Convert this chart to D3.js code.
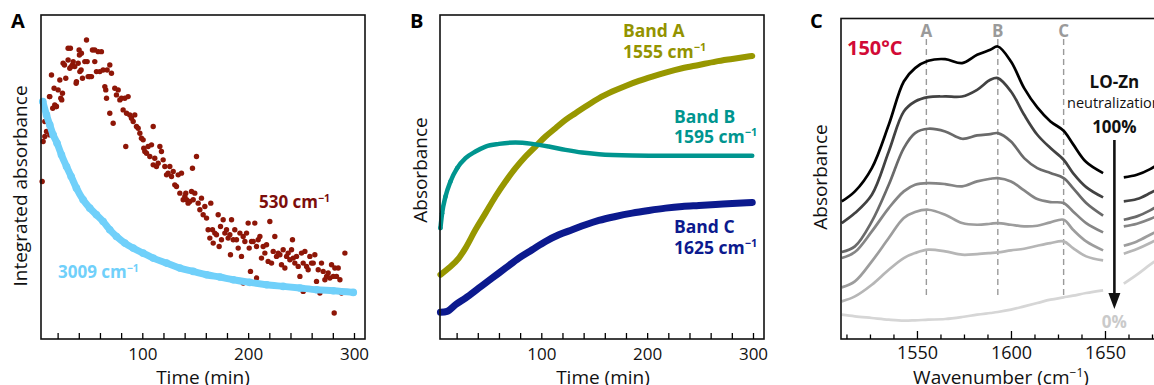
<!DOCTYPE html>
<html>
<head>
<meta charset="utf-8">
<script src="https://cdn.jsdelivr.net/npm/d3@7"></script>
<style>
  body { margin: 0; background: #fff; }
  text { font-family: "Open Sans", sans-serif; }
</style>
</head>
<body>
<svg id="fig" width="1154" height="385"></svg>
<script>
// ---- panel A : integrated absorbance vs time (a.u.) ----
// 530 cm-1, scattered points [time (min), absorbance]
const band530 = [
  [5.4,47.3],[6.3,59.3],[7.9,60.8],[9.5,62.3],[12.6,61.3],[7.9,65.3],[12.6,72.8],[14.2,79.3],[16.7,75.3],[18.9,69.8],
  [17.3,70.3],[20.5,74.8],[22.1,77.8],[23.0,72.3],[24.6,73.8],[25.2,82.8],[27.7,78.3],[29.9,83.8],[29.9,87.3],[32.1,87.3],
  [31.5,81.3],[34.0,82.3],[34.7,83.3],[36.2,81.8],[37.8,77.3],[39.4,82.8],[40.3,86.8],[41.0,80.3],[42.5,85.8],[43.5,78.3],
  [45.7,83.3],[47.3,89.8],[47.9,83.3],[48.8,78.8],[50.4,78.8],[52.0,78.8],[52.9,86.8],[55.1,86.8],[55.1,83.3],[56.7,80.3],
  [58.3,86.3],[59.9,80.3],[61.4,86.3],[63.0,80.8],[64.6,75.8],[65.5,74.8],[66.2,72.3],[66.8,80.8],[69.3,82.3],[70.9,79.8],
  [69.3,67.8],[72.5,64.8],[74.0,75.3],[75.6,73.3],[77.2,74.8],[78.8,71.8],[80.3,72.3],[81.9,68.8],[83.5,72.3],[84.4,57.8],
  [85.1,67.8],[86.6,72.8],[88.2,67.3],[89.8,66.3],[91.4,65.3],[92.9,67.3],[94.5,63.8],[96.1,63.3],[97.7,61.8],[99.2,60.3],
  [100.8,59.8],[101.4,57.3],[102.4,56.3],[104.0,55.8],[105.5,57.8],[107.1,54.8],[108.7,58.3],[110.3,63.8],[110.3,52.3],[111.8,54.3],
  [113.4,51.8],[115.0,52.8],[116.6,57.8],[118.1,56.3],[119.7,53.8],[121.3,51.8],[122.9,49.3],[124.4,49.8],[126.0,51.8],[127.6,48.8],
  [129.2,50.3],[130.7,46.3],[132.3,45.8],[133.9,49.3],[135.5,43.8],[137.0,49.8],[138.6,41.8],[140.2,42.8],[141.1,43.8],[141.8,41.8],
  [143.3,40.8],[144.9,41.3],[146.5,44.3],[147.4,51.3],[148.1,41.8],[149.6,43.8],[151.2,54.8],[152.8,40.8],[154.4,38.8],[155.9,42.3],
  [157.5,37.3],[159.1,39.8],[160.7,36.3],[162.2,32.8],[163.8,30.3],[164.7,40.8],[166.3,32.8],[167.0,28.8],[168.5,31.8],[170.1,31.3],
  [171.7,37.3],[172.6,27.8],[173.9,33.8],[174.8,29.8],[176.4,35.8],[178.0,31.8],[179.6,32.8],[181.1,30.3],[182.7,31.3],[183.3,25.3],
  [184.3,35.8],[185.9,29.8],[187.4,32.8],[189.0,29.8],[190.6,27.3],[192.2,31.8],[193.7,24.8],[195.3,30.8],[196.9,29.3],[198.5,31.8],
  [200.0,34.8],[201.0,27.3],[202.2,20.3],[203.2,29.3],[204.8,29.3],[206.3,34.8],[207.9,27.8],[209.5,29.8],[211.1,30.8],[212.6,24.3],
  [214.2,27.8],[215.8,25.8],[217.4,28.3],[218.9,23.3],[220.5,35.3],[222.1,22.8],[223.7,26.3],[225.2,30.8],[226.8,24.8],[228.4,25.8],
  [230.0,25.3],[231.5,22.3],[233.1,26.8],[234.7,21.3],[236.3,24.8],[237.8,25.8],[239.4,23.8],[241.0,26.8],[241.9,29.8],[242.6,24.3],
  [244.1,22.8],[245.7,24.8],[247.3,21.8],[248.9,18.8],[250.4,25.8],[252.0,22.8],[253.6,26.3],[255.2,21.8],[256.7,20.8],[258.3,24.8],
  [259.9,22.8],[261.5,22.8],[263.0,25.3],[264.6,17.3],[266.2,20.8],[267.8,13.8],[269.3,22.8],[270.9,20.3],[272.5,17.8],[274.1,18.8],
  [275.6,19.8],[277.2,18.3],[278.8,22.3],[280.4,18.8],[281.3,7.8],[281.9,21.3],[283.5,18.8],[285.1,21.3],[286.7,17.8],[288.2,13.8],
  [291.4,25.8],[195.3,16.8],[207.9,18.3],[252.0,14.3],[15.4,69.3],[18.6,69.8],[12.3,72.8],[23.9,71.8],[26.5,82.3],[32.8,81.8],
  [37.5,76.8],[40.6,85.3],[42.2,80.8],[50.1,78.8]
]
// 3009 cm-1, dense trace
const band3009 = [
  [6.0,71.3],[9.5,67.3],[12.6,64.3],[15.8,61.3],[19.5,58.8],[23.6,55.3],[28.4,51.8],[32.8,48.8],[37.8,45.3],[44.1,41.8],
  [50.4,39.3],[56.7,37.3],[63.0,35.3],[69.3,32.8],[75.6,30.8],[83.5,28.8],[91.4,27.3],[100.8,25.8],[110.3,24.3],[122.9,22.8],
  [135.5,21.3],[148.1,20.3],[160.7,19.3],[173.3,18.6],[185.9,17.8],[201.6,17.0],[217.4,16.3],[233.1,15.8],[248.9,15.3],[264.6,14.8],
  [280.4,14.5],[299.3,14.0]
]

// ---- panel B : band absorbance vs time ----
const bandA = [
  [4.7,19.3],[12.6,21.3],[22.1,24.3],[28.4,27.3],[37.8,32.8],[47.3,37.8],[56.7,42.8],[66.2,47.3],[75.6,51.3],[85.1,54.8],
  [94.5,57.8],[104.0,60.8],[113.4,63.3],[122.9,65.8],[132.3,67.8],[141.8,69.8],[154.4,72.3],[167.0,74.3],[179.6,76.0],[192.2,77.5],
  [204.8,78.8],[217.4,80.0],[233.1,81.3],[248.9,82.3],[264.6,83.3],[280.4,84.1],[299.3,85.0]
]
const bandB = [
  [4.7,33.3],[6.3,37.8],[9.5,42.8],[14.2,47.3],[20.5,51.3],[28.4,54.3],[37.8,56.3],[47.3,57.8],[59.9,58.6],[75.6,59.0],
  [91.4,58.6],[107.1,57.8],[122.9,56.8],[138.6,56.0],[154.4,55.5],[185.9,55.1],[217.4,55.0],[248.9,55.0],[299.3,55.0]
]
const bandC = [
  [4.7,8.0],[11.0,8.3],[18.9,10.3],[28.4,12.3],[41.0,15.3],[53.6,18.3],[66.2,21.3],[78.8,24.3],[91.4,26.8],[104.0,29.3],
  [116.6,31.3],[129.2,32.8],[141.8,34.3],[154.4,35.6],[170.1,36.8],[185.9,37.8],[201.6,38.6],[217.4,39.3],[233.1,39.8],[248.9,40.1],
  [264.6,40.4],[280.4,40.7],[299.3,41.0]
]

// ---- panel C : spectra at decreasing LO-Zn neutralization (null = axis gap) ----
const wavenumbers = [1510,1517,1526,1535,1543,1549,1556,1565,1574,1582,1589,1593,1600,1607,1614,1621,1628,1633,1640,1649,1655,1660,1667,1674,1679]
const spec1 = [41.3,44.3,51.3,64.3,77.3,81.3,83.5,84.0,82.8,85.3,86.8,87.8,83.3,75.3,69.5,65.3,62.5,58.5,53.1,49.8,null,48.5,49.3,51.0,52.8]
const spec2 = [34.8,37.8,43.3,56.3,68.3,71.3,72.6,72.8,72.8,74.8,77.8,78.3,74.3,67.3,61.3,57.3,53.8,49.8,45.6,42.5,null,41.3,42.0,43.8,45.3]
const spec3 = [26.1,27.8,35.3,46.3,57.3,61.8,63.1,62.3,60.1,61.1,61.5,61.8,59.3,54.3,51.3,49.8,48.3,45.3,40.8,37.0,null,35.8,36.8,38.6,40.3]
const spec4 = [24.3,26.1,32.3,39.3,44.3,46.3,46.8,46.5,45.8,47.3,48.1,48.3,47.3,44.6,42.0,41.1,40.8,38.3,34.8,32.0,null,33.8,34.6,36.0,37.3]
const spec5 = [15.5,17.3,23.3,30.3,36.3,38.1,38.8,37.3,34.8,34.3,34.6,34.8,34.3,33.8,34.0,35.0,35.8,32.8,29.3,26.6,null,28.0,29.3,31.3,32.8]
const spec6 = [11.3,12.8,16.3,20.8,24.3,25.8,26.8,26.3,25.3,25.5,25.8,26.0,26.6,27.1,28.0,28.8,29.3,27.3,24.8,23.6,null,25.6,27.0,28.8,30.3]
const spec7 = [7.3,6.8,6.3,5.8,5.5,5.6,5.8,6.0,6.6,7.3,7.8,8.1,8.8,9.8,10.8,11.8,12.5,13.0,13.8,14.6,null,16.6,19.3,22.3,24.3]
const bandPositions = [1555, 1593, 1628]
const bandNames = ['A', 'B', 'C']
const timeTicks = [100, 200, 300]
const wnTicks = [1550, 1600, 1650]

const svg = d3.select('#fig')
svg.append('rect').attr('width', 1154).attr('height', 385).attr('fill', '#fff')

function superLabel(g, x, y, txt, sup, color, size, weight) {
  var t = g.append('text').attr('x', x).attr('y', y).attr('fill', color)
    .attr('font-size', size).attr('font-weight', weight || 700).text(txt)
  if (sup) t.append('tspan').attr('dy', -size * 0.38).attr('font-size', size * 0.62).text(sup)
  return t
}

function timeAxes(g, x, h) {
  g.append('g').attr('transform', `translate(0,${h})`)
    .call(d3.axisBottom(x).tickValues(d3.range(20, 301, 20)).tickSize(-6).tickFormat(''))
    .call(a => a.select('.domain').remove())
    .call(a => a.selectAll('line').attr('stroke-width', 1.3))
  g.append('g').attr('transform', `translate(0,${h})`)
    .call(d3.axisBottom(x).tickValues(timeTicks).tickSize(0).tickPadding(9).tickFormat(d3.format('d')))
    .call(a => a.select('.domain').remove())
    .call(a => a.selectAll('text').attr('font-size', 17).attr('font-family', '"Open Sans", sans-serif').attr('fill', '#111'))
}

function frame(g, w, h) {
  g.append('rect').attr('width', w).attr('height', h)
    .attr('fill', 'none').attr('stroke', '#111').attr('stroke-width', 1.6)
}

// ================= Panel A =================
const W = 324, H = 324
const gA = svg.append('g').attr('transform', 'translate(41,15)')
const xA = d3.scaleLinear().domain([4.3, 310.4]).range([0, W])
const yA = d3.scaleLinear().domain([0, 97.3]).range([H, 0])

gA.selectAll('circle.r').data(band530).join('circle').attr('class', 'r')
  .attr('cx', d => xA(d[0])).attr('cy', d => yA(d[1])).attr('r', 2.7).attr('fill', '#8e1607')

gA.append('path').datum(band3009)
  .attr('fill', 'none').attr('stroke', '#70d0fa').attr('stroke-width', 7)
  .attr('stroke-linecap', 'round').attr('stroke-linejoin', 'round')
  .attr('d', d3.line().x(d => xA(d[0])).y(d => yA(d[1])).curve(d3.curveMonotoneX))
gA.selectAll('circle.b').data(band3009).join('circle').attr('class', 'b')
  .attr('cx', d => xA(d[0])).attr('cy', d => yA(d[1])).attr('r', 3.8).attr('fill', '#70d0fa')

frame(gA, W, H)
timeAxes(gA, xA, H)

superLabel(svg, 259, 208, '530 cm', '\u22121', '#7c0d0b', 17)
superLabel(svg, 58, 278, '3009 cm', '\u22121', '#70d0fa', 17)
svg.append('text').attr('x', 203).attr('y', 384).attr('text-anchor', 'middle')
  .attr('font-size', 19).attr('fill', '#111').text('Time (min)')
svg.append('text').attr('transform', 'translate(27,186) rotate(-90)').attr('text-anchor', 'middle')
  .attr('font-size', 19).attr('fill', '#111').text('Integrated absorbance')
svg.append('text').attr('x', 11).attr('y', 28).attr('font-family', '"Liberation Sans", Arial, sans-serif')
  .attr('font-weight', 700).attr('font-size', 20).text('A')

// ================= Panel B =================
const gB = svg.append('g').attr('transform', 'translate(440,15)')
const xB = d3.scaleLinear().domain([4.3, 310.4]).range([0, W])
const yB = d3.scaleLinear().domain([0, 97.3]).range([H, 0])
const lineB = d3.line().x(d => xB(d[0])).y(d => yB(d[1])).curve(d3.curveMonotoneX)

const bands = [
  { data: bandA, color: '#979700', width: 6 },
  { data: bandB, color: '#00958f', width: 4.5 },
  { data: bandC, color: '#0c1a8e', width: 7 }
]
bands.forEach(b => {
  gB.append('path').datum(b.data).attr('fill', 'none').attr('stroke', b.color)
    .attr('stroke-width', b.width).attr('stroke-linecap', 'round').attr('d', lineB)
})
gB.selectAll('circle.t').data(bandB.slice(0, 5)).join('circle').attr('class', 't')
  .attr('cx', d => xB(d[0])).attr('cy', d => yB(d[1])).attr('r', 2.3).attr('fill', '#00958f')

frame(gB, W, H)
timeAxes(gB, xB, H)

superLabel(svg, 623, 37, 'Band A', null, '#939300', 17.5)
superLabel(svg, 623, 58, '1555 cm', '\u22121', '#939300', 17.5)
superLabel(svg, 674, 123, 'Band B', null, '#00958f', 17.5)
superLabel(svg, 674, 143, '1595 cm', '\u22121', '#00958f', 17.5)
superLabel(svg, 674, 233, 'Band C', null, '#0c1a8e', 17.5)
superLabel(svg, 674, 254, '1625 cm', '\u22121', '#0c1a8e', 17.5)
svg.append('text').attr('x', 603).attr('y', 384).attr('text-anchor', 'middle')
  .attr('font-size', 19).attr('fill', '#111').text('Time (min)')
svg.append('text').attr('transform', 'translate(427,170) rotate(-90)').attr('text-anchor', 'middle')
  .attr('font-size', 19).attr('fill', '#111').text('Absorbance')
svg.append('text').attr('x', 410).attr('y', 28).attr('font-family', '"Liberation Sans", Arial, sans-serif')
  .attr('font-weight', 700).attr('font-size', 20).text('B')

// ================= Panel C =================
const HC = 320.5
const gC = svg.append('g').attr('transform', 'translate(841,18.5)')
const xC = d3.scaleLinear().domain([1509.6, 1680]).range([0, 320.4])
const yC = d3.scaleLinear().domain([0, 96.2]).range([HC, 0])

// dashed band markers
const dashSpan = [13.2, 90.7]
gC.selectAll('line.band').data(bandPositions).join('line').attr('class', 'band')
  .attr('x1', d => xC(d)).attr('x2', d => xC(d))
  .attr('y1', yC(dashSpan[0])).attr('y2', yC(dashSpan[1]))
  .attr('stroke', '#9a9a9a').attr('stroke-width', 1.4).attr('stroke-dasharray', '6,4')
gC.selectAll('text.band').data(bandPositions).join('text').attr('class', 'band')
  .attr('x', d => xC(d)).attr('y', 18.5).attr('text-anchor', 'middle')
  .attr('font-size', 17).attr('font-weight', 700).attr('fill', '#9a9a9a')
  .text((d, i) => bandNames[i])

const spectra = [spec7, spec6, spec5, spec4, spec3, spec2, spec1]
const grays = ['#d6d6d6', '#b6b6b6', '#9d9d9d', '#858585', '#6a6a6a', '#424242', '#000000']
const lineC = d3.line().defined(d => d[1] != null)
  .x(d => xC(d[0])).y(d => yC(d[1])).curve(d3.curveCatmullRom.alpha(0.5))
spectra.forEach((s, i) => {
  gC.append('path').datum(wavenumbers.map((w, j) => [w, s[j]]))
    .attr('fill', 'none').attr('stroke', grays[i]).attr('stroke-width', 2.7)
    .attr('stroke-linejoin', 'round').attr('d', lineC)
})

gC.append('rect').attr('width', 340).attr('height', HC)
  .attr('fill', 'none').attr('stroke', '#111').attr('stroke-width', 1.6)

const minorWn = d3.range(1512.5, 1680, 12.5).filter(v => wnTicks.indexOf(v) < 0)
gC.append('g').attr('transform', `translate(0,${HC})`)
  .call(d3.axisBottom(xC).tickValues(minorWn).tickSize(-4.5).tickFormat(''))
  .call(a => a.select('.domain').remove())
  .call(a => a.selectAll('line').attr('stroke-width', 1.3))
gC.append('g').attr('transform', `translate(0,${HC})`)
  .call(d3.axisBottom(xC).tickValues(wnTicks).tickSize(-8).tickFormat(''))
  .call(a => a.select('.domain').remove())
  .call(a => a.selectAll('line').attr('stroke-width', 1.3))
gC.append('g').attr('transform', `translate(0,${HC})`)
  .call(d3.axisBottom(xC).tickValues(wnTicks).tickSize(0).tickPadding(7).tickFormat(d3.format('d')))
  .call(a => a.select('.domain').remove())
  .call(a => a.selectAll('text').attr('font-size', 18).attr('font-family', '"Open Sans", sans-serif').attr('fill', '#111'))

// annotations
svg.append('text').attr('x', 847).attr('y', 55).attr('font-size', 20).attr('font-weight', 700)
  .attr('fill', '#d20a36').text('150\u00b0C')
const ax = 841 + xC(1655)
svg.append('text').attr('x', ax).attr('y', 88).attr('text-anchor', 'middle')
  .attr('font-size', 17).attr('font-weight', 700).attr('fill', '#111').text('LO-Zn')
svg.append('text').attr('x', 1067).attr('y', 108)
  .attr('font-size', 14.5).attr('fill', '#111').text('neutralization')
svg.append('text').attr('x', ax).attr('y', 133).attr('text-anchor', 'middle')
  .attr('font-size', 17).attr('font-weight', 700).attr('fill', '#111').text('100%')
svg.append('line').attr('x1', ax).attr('x2', ax).attr('y1', 140).attr('y2', 296)
  .attr('stroke', '#111').attr('stroke-width', 2.6)
svg.append('path').attr('d', `M${ax - 6},293 L${ax + 6},293 L${ax},309 Z`).attr('fill', '#111')
svg.append('text').attr('x', ax).attr('y', 328).attr('text-anchor', 'middle')
  .attr('font-size', 17).attr('font-weight', 700).attr('fill', '#cacaca').text('0%')

const wt = svg.append('text').attr('x', 1001).attr('y', 384).attr('text-anchor', 'middle')
  .attr('font-size', 19).attr('fill', '#111').text('Wavenumber (cm')
wt.append('tspan').attr('dy', -7).attr('font-size', 12).text('\u22121')
wt.append('tspan').attr('dy', 7).text(')')
svg.append('text').attr('transform', 'translate(827,177) rotate(-90)').attr('text-anchor', 'middle')
  .attr('font-size', 19).attr('fill', '#111').text('Absorbance')
svg.append('text').attr('x', 810).attr('y', 28).attr('font-family', '"Liberation Sans", Arial, sans-serif')
  .attr('font-weight', 700).attr('font-size', 20).text('C')
</script>
</body>
</html>
